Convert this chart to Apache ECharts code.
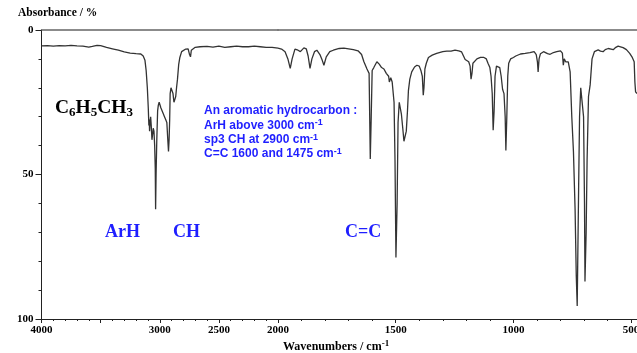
<!DOCTYPE html>
<html>
<head>
    <meta charset="utf-8">
    <script src="https://cdn.jsdelivr.net/npm/echarts@6/dist/echarts.min.js"></script>
    <style>
        html, body { margin: 0; padding: 0; background: #fff; }
        #main { width: 637px; height: 353px; }
    </style>
</head>
<body>
    <div id="main"></div>
    <script type="text/javascript">
    // IR spectrum of toluene
    var wavenumbers = [
        4000, 3950, 3900, 3850, 3800, 3750, 3700, 3650, 3600, 3570, 3530, 3500, 3450, 3400, 3350, 3300, 3250, 3200, 3160, 3140,
        3125, 3115, 3105, 3097, 3092, 3089, 3086, 3082, 3077, 3072, 3066, 3060, 3055, 3049, 3043, 3038, 3035, 3031, 3025, 3018,
        3012, 3005, 2998, 2990, 2980, 2970, 2960, 2950, 2940, 2932, 2926, 2921, 2916, 2912, 2905, 2895, 2888, 2880, 2872, 2865,
        2858, 2850, 2840, 2830, 2815, 2800, 2780, 2760, 2748, 2740, 2733, 2720, 2700, 2660, 2600, 2550, 2500, 2450, 2400, 2350,
        2300, 2250, 2200, 2150, 2100, 2050, 2000,
        1985, 1970, 1958, 1948, 1940, 1928, 1915, 1905, 1890, 1880, 1872, 1864, 1856, 1845, 1835, 1822, 1812, 1805, 1795, 1780,
        1765, 1740, 1720, 1700, 1680, 1660, 1645, 1635, 1622, 1613, 1608, 1604, 1600, 1593, 1580, 1570, 1560, 1550, 1540, 1530,
        1527, 1521, 1515, 1507, 1503, 1499, 1494, 1490, 1485, 1480, 1476, 1470, 1465, 1460, 1455, 1450, 1446, 1440, 1432, 1420,
        1410, 1400, 1393, 1387, 1383, 1380, 1376, 1370, 1361, 1345, 1326, 1300, 1283, 1265, 1248, 1232, 1220, 1212, 1205, 1198,
        1190, 1184, 1180, 1176, 1172, 1165, 1155, 1140, 1125, 1115, 1108, 1100, 1095, 1090, 1086, 1082, 1078, 1072, 1065, 1058,
        1052, 1046, 1040, 1035, 1032, 1028, 1024, 1020, 1012, 1000, 990, 970, 950, 930, 912, 903, 898, 895, 891, 885,
        872, 855, 844, 830, 816, 800, 792, 788, 784, 778, 767, 759, 752, 745, 738, 733, 729, 723, 719, 714,
        708, 702, 698, 696, 691, 687, 681, 674, 666, 656, 640, 630, 619, 610, 597, 585, 576, 565, 555, 545,
        534, 520, 506, 495, 487, 484, 481, 475
    ];
    var absorbance = [
        5.5, 5.4, 5.6, 5.4, 5.5, 5.3, 5.5, 5.6, 5.9, 5.7, 5.3, 5.4, 6.0, 6.5, 7.0, 7.6, 8.0, 8.2, 8.3, 9.0,
        10.5, 14, 20, 27, 33, 31, 35, 32, 30, 33, 38, 36, 34, 35, 40, 48, 62, 50, 38, 28,
        26, 25, 25.5, 27, 27.5, 29, 30, 31, 32, 38, 42, 38, 31, 22, 20, 19.5, 22, 25, 24, 23,
        20, 17, 12, 9.5, 7.5, 7, 6.6, 6.5, 8.5, 9.3, 7, 6.4, 6.0, 5.8, 5.7, 5.9, 5.6, 6.0, 5.8, 5.6,
        5.8, 5.8, 5.6, 5.8, 6.0, 6.0, 6.3,
        6.6, 7.5, 10, 13.3, 10, 6.6, 7, 7.5, 6.2, 6.5, 9, 13.3, 10, 7.5, 7, 8.5, 10.5, 12.2, 9.3, 7.5,
        7, 6.4, 6.3, 6.5, 6.8, 7.2, 8.5, 11, 13.5, 15, 44.6, 30, 14, 13, 11, 11.8, 13, 13.5, 15, 16,
        18, 16.5, 18, 25, 45, 78.7, 60, 32, 25, 25.5, 29, 34, 38.5, 38.8, 35, 28, 21, 17, 14.5, 12.8,
        12.2, 12.5, 14, 16, 22.6, 20, 13.5, 11.5, 9.5, 8.7, 8.1, 7.5, 7.3, 7.3, 7, 7.2, 7.6, 9, 10.2, 10.4,
        11, 12.5, 17, 15, 11.5, 11, 10, 9.5, 9.5, 10, 11.5, 13, 16, 22, 34.7, 28, 16, 12.5, 12.2, 13,
        16, 20.5, 22, 30, 41.7, 30, 16, 11.5, 10, 9.5, 9, 8.3, 8.1, 7.8, 7.5, 8.5, 11, 14.5, 10, 8.2,
        7.5, 8.2, 8.4, 7.8, 7.5, 7.2, 8, 12.2, 10, 11, 11, 14.5, 30, 42, 62, 85, 95.5, 55, 30, 20,
        20.5, 30, 60, 87, 70, 45, 23, 19, 10, 7.5, 6.9, 7.3, 7.5, 6.8, 6.4, 6.6, 6.8, 6.0, 5.6, 5.8,
        6.1, 6.8, 8.1, 9.5, 11, 18, 21.4, 22
    ];
    var yTicks = [0, 50, 100];
    var xMajorRight = [500, 1000, 1500, 2000];
    var xLabelsRight = [500, 1000, 1500];
    var xMinorRight = [600, 700, 800, 900, 1100, 1200, 1300, 1400, 1600, 1700, 1800, 1900];

    // the axis is expanded 2x below 2000 cm-1, so split the curve on two grids
    var leftPts = [], rightPts = [];
    for (var i = 0; i < wavenumbers.length; i++) {
        if (wavenumbers[i] >= 2000) leftPts.push([wavenumbers[i], absorbance[i]]);
        if (wavenumbers[i] <= 2000) rightPts.push([wavenumbers[i], absorbance[i]]);
    }

    var serif = '"Liberation Serif", "Times New Roman", serif';
    var sans = '"Liberation Sans", Arial, sans-serif';
    var blue = '#1f1fff';
    var axisColor = '#222';
    var plain = function (v) { return String(v); };
    var labelStyle = {fontFamily: serif, fontWeight: 'bold', fontSize: 11, color: '#000'};

    var myChart = echarts.init(document.getElementById('main'));

    var option = {
        animation: false,
        backgroundColor: '#fff',
        title: [
            {
                left: 18, top: 7, padding: 0,
                text: 'Absorbance / %',
                textStyle: {fontFamily: serif, fontWeight: 'bold', fontSize: 11.5, color: '#000'}
            },
            {
                left: 283, top: 339, padding: 0,
                text: '{a|Wavenumbers / cm}{s|-1}',
                textStyle: {
                    rich: {
                        a: {fontFamily: serif, fontWeight: 'bold', fontSize: 12, color: '#000', lineHeight: 16},
                        s: {fontFamily: serif, fontWeight: 'bold', fontSize: 9, color: '#000', lineHeight: 9, verticalAlign: 'top'}
                    }
                }
            },
            {
                left: 55, top: 96, padding: 0,
                text: '{b|C}{s|6}{b|H}{s|5}{b|CH}{s|3}',
                textStyle: {
                    rich: {
                        b: {fontFamily: serif, fontWeight: 'bold', fontSize: 19.5, color: '#000', lineHeight: 23},
                        s: {fontFamily: serif, fontWeight: 'bold', fontSize: 13, color: '#000', lineHeight: 13, verticalAlign: 'bottom'}
                    }
                }
            },
            {
                left: 204, top: 104, padding: 0,
                text: '{t|An aromatic hydrocarbon :}\n' +
                      '{t|ArH above 3000 cm}{u|-1}\n' +
                      '{t|sp3 CH at 2900 cm}{u|-1}\n' +
                      '{t|C=C 1600 and 1475 cm}{u|-1}',
                textStyle: {
                    rich: {
                        t: {fontFamily: sans, fontWeight: 'bold', fontSize: 12, color: blue, lineHeight: 14.3},
                        u: {fontFamily: sans, fontWeight: 'bold', fontSize: 9, color: blue, lineHeight: 8, verticalAlign: 'top'}
                    }
                }
            },
            {
                left: 105, top: 223, padding: 0, text: 'ArH',
                textStyle: {fontFamily: serif, fontWeight: 'bold', fontSize: 18, color: blue}
            },
            {
                left: 173, top: 223, padding: 0, text: 'CH',
                textStyle: {fontFamily: serif, fontWeight: 'bold', fontSize: 18, color: blue}
            },
            {
                left: 345, top: 223, padding: 0, text: 'C=C',
                textStyle: {fontFamily: serif, fontWeight: 'bold', fontSize: 18, color: blue}
            }
        ],
        grid: [
            {left: 41.5, top: 30, width: 236.5, height: 289, outerBoundsMode: 'none', containLabel: false},
            {left: 278, top: 30, width: 359, height: 289, outerBoundsMode: 'none', containLabel: false}
        ],
        xAxis: [
            {
                type: 'value', gridIndex: 0, min: 2000, max: 4000, interval: 500, inverse: true, position: 'bottom',
                axisLine: {onZero: false, lineStyle: {color: axisColor}},
                axisTick: {length: 4, lineStyle: {color: axisColor}},
                minorTick: {show: true, splitNumber: 5, length: 2, lineStyle: {color: axisColor}},
                splitLine: {show: false},
                axisLabel: Object.assign({margin: 6, formatter: function (v) { return v === 3500 ? '' : String(v); }}, labelStyle)
            },
            {
                type: 'value', gridIndex: 1, min: 475, max: 2000, inverse: true, position: 'bottom',
                axisLine: {onZero: false, lineStyle: {color: axisColor}},
                axisTick: {length: 4, customValues: xMajorRight, lineStyle: {color: axisColor}},
                splitLine: {show: false},
                axisLabel: Object.assign({margin: 6, customValues: xLabelsRight, formatter: plain}, labelStyle)
            },
            {
                // short ticks every 100 cm-1 below 2000
                type: 'value', gridIndex: 1, min: 475, max: 2000, inverse: true, position: 'bottom',
                axisLine: {show: false, onZero: false},
                axisTick: {length: 2, customValues: xMinorRight, lineStyle: {color: axisColor}},
                splitLine: {show: false},
                axisLabel: {show: false}
            },
            {
                type: 'value', gridIndex: 0, min: 2000, max: 4000, inverse: true, position: 'top',
                axisLine: {onZero: false, lineStyle: {color: '#666', width: 1.5}},
                axisTick: {show: false}, axisLabel: {show: false}, splitLine: {show: false}
            },
            {
                type: 'value', gridIndex: 1, min: 475, max: 2000, inverse: true, position: 'top',
                axisLine: {onZero: false, lineStyle: {color: '#666', width: 1.5}},
                axisTick: {show: false}, axisLabel: {show: false}, splitLine: {show: false}
            }
        ],
        yAxis: [
            {
                type: 'value', gridIndex: 0, min: 0, max: 100, interval: 50, inverse: true,
                axisLine: {show: true, onZero: false, lineStyle: {color: axisColor}},
                axisTick: {show: true, length: 6, lineStyle: {color: axisColor}},
                minorTick: {show: true, splitNumber: 5, length: 3, lineStyle: {color: axisColor}},
                splitLine: {show: false},
                axisLabel: Object.assign({margin: 8, customValues: yTicks, formatter: plain}, labelStyle)
            },
            {
                type: 'value', gridIndex: 1, min: 0, max: 100, inverse: true, show: false,
                splitLine: {show: false}
            }
        ],
        series: [
            {
                type: 'line', xAxisIndex: 0, yAxisIndex: 0, data: leftPts,
                symbol: 'none', lineStyle: {color: '#333', width: 1.3}
            },
            {
                type: 'line', xAxisIndex: 1, yAxisIndex: 1, data: rightPts,
                symbol: 'none', lineStyle: {color: '#333', width: 1.3}
            }
        ]
    };

    myChart.setOption(option);
    </script>
</body>
</html>
